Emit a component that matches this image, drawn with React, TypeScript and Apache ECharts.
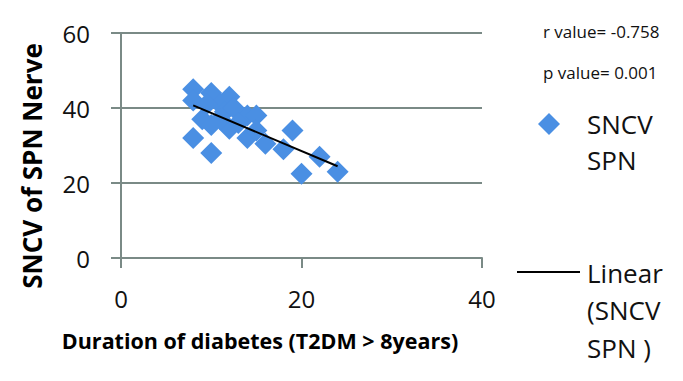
import React, { useEffect, useRef } from "react";
import * as echarts from "echarts";

const durationYears = [8, 10, 12, 8, 11, 11.5, 14, 15, 9, 10, 12, 14, 8, 10, 16, 18, 19, 22, 20, 24, 9.5, 12.5, 13, 15, 11];
const sncvValues = [45, 44, 43, 42, 41, 39, 38, 38, 37, 35.5, 34.5, 32, 32, 28, 30.5, 29, 34, 27, 22.5, 23, 41, 40, 36, 34, 37];
const xTicks = [0, 20, 40];
const yTicks = [0, 20, 40, 60];
const statTexts = ["r value= -0.758", "p value= 0.001"];
const legendScatter = ["SNCV", "SPN"];
const legendLinear = ["Linear", "(SNCV", "SPN )"];

const FONT = "'Open Sans', 'Noto Sans', sans-serif";
const GRID = "#7a8a86";
const BLUE = "#4a8fe3";

function linearFit(xs: number[], ys: number[]) {
  const n = xs.length;
  const mx = xs.reduce((a, b) => a + b, 0) / n;
  const my = ys.reduce((a, b) => a + b, 0) / n;
  let sxy = 0;
  let sxx = 0;
  for (let i = 0; i < n; i++) {
    sxy += (xs[i] - mx) * (ys[i] - my);
    sxx += (xs[i] - mx) * (xs[i] - mx);
  }
  const slope = sxy / sxx;
  const intercept = my - slope * mx;
  const x0 = Math.min(...xs);
  const x1 = Math.max(...xs);
  return [
    [x0, intercept + slope * x0],
    [x1, intercept + slope * x1],
  ];
}

export default function App() {
  const ref = useRef<HTMLDivElement>(null);
  useEffect(() => {
    if (!ref.current) return;
    const chart = echarts.init(ref.current, undefined, { renderer: "svg" });
    const points = durationYears.map((x, i) => [x, sncvValues[i]]);
    const trend = linearFit(durationYears, sncvValues);
    chart.setOption({
      animation: false,
      backgroundColor: "#ffffff",
      grid: { left: 121, right: 201, top: 33, bottom: 123, containLabel: false },
      xAxis: {
        type: "value",
        min: xTicks[0],
        max: xTicks[xTicks.length - 1],
        interval: xTicks[1] - xTicks[0],
        axisLine: { show: true, lineStyle: { color: GRID, width: 2 } },
        axisTick: { show: true, length: 10, lineStyle: { color: GRID, width: 2 } },
        splitLine: { show: false },
        axisLabel: { fontSize: 24, fontFamily: FONT, color: "#111", margin: 28 },
      },
      yAxis: {
        type: "value",
        min: yTicks[0],
        max: yTicks[yTicks.length - 1],
        interval: yTicks[1] - yTicks[0],
        axisLine: { show: true, lineStyle: { color: GRID, width: 2 } },
        axisTick: { show: true, length: 10, lineStyle: { color: GRID, width: 2 } },
        splitLine: { show: true, lineStyle: { color: GRID, width: 2 } },
        axisLabel: { fontSize: 24, fontFamily: FONT, color: "#111", margin: 31 },
      },
      series: [
        {
          name: "SNCV SPN",
          type: "scatter",
          symbol: "diamond",
          symbolSize: 22,
          itemStyle: { color: BLUE, opacity: 1 },
          data: points,
          z: 2,
        },
        {
          name: "Linear (SNCV SPN )",
          type: "line",
          data: trend,
          symbol: "none",
          lineStyle: { color: "#000", width: 2 },
          z: 3,
        },
      ],
      graphic: [
        {
          type: "text",
          x: 32,
          y: 166,
          rotation: Math.PI / 2,
          style: {
            text: "SNCV of SPN Nerve",
            fontSize: 26,
            fontWeight: "bold",
            fontFamily: FONT,
            fill: "#000",
            align: "center",
            verticalAlign: "middle",
          },
        },
        {
          type: "text",
          x: 260,
          y: 340,
          style: {
            text: "Duration of diabetes (T2DM > 8years)",
            fontSize: 21.5,
            fontWeight: "bold",
            fontFamily: FONT,
            fill: "#000",
            align: "center",
            verticalAlign: "middle",
          },
        },
        {
          type: "text",
          x: 543,
          y: 31,
          style: { text: statTexts[0], fontSize: 17, fontFamily: FONT, fill: "#111", align: "left", verticalAlign: "middle" },
        },
        {
          type: "text",
          x: 543,
          y: 72,
          style: { text: statTexts[1], fontSize: 17, fontFamily: FONT, fill: "#111", align: "left", verticalAlign: "middle" },
        },
        {
          type: "polygon",
          shape: { points: [[549, 113], [560, 124], [549, 135], [538, 124]] },
          style: { fill: BLUE },
        },
        {
          type: "text",
          x: 587,
          y: 106,
          style: {
            text: legendScatter.join("\n"),
            fontSize: 26,
            lineHeight: 36,
            fontFamily: FONT,
            fill: "#111",
            align: "left",
            verticalAlign: "top",
          },
        },
        {
          type: "line",
          shape: { x1: 517, y1: 272, x2: 580, y2: 272 },
          style: { stroke: "#000", lineWidth: 2 },
        },
        {
          type: "text",
          x: 587,
          y: 254,
          style: {
            text: legendLinear.join("\n"),
            fontSize: 26,
            lineHeight: 37.5,
            fontFamily: FONT,
            fill: "#111",
            align: "left",
            verticalAlign: "top",
          },
        },
      ],
    });
    return () => chart.dispose();
  }, []);
  return (
    <div
      ref={ref}
      style={{ position: "fixed", left: 0, top: 0, width: 683, height: 381 }}
    />
  );
}
